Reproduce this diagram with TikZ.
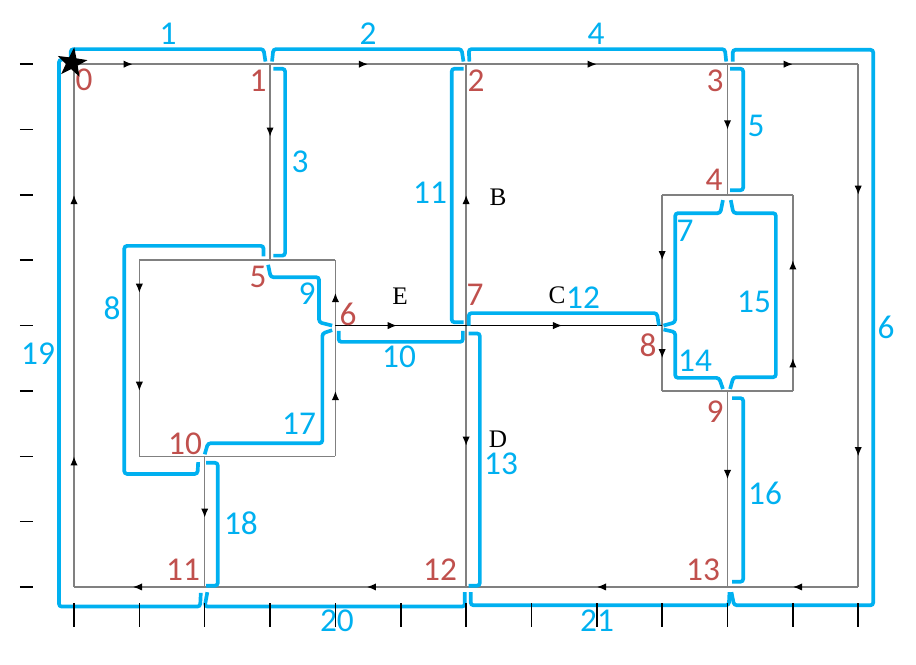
\documentclass[tikz,border=0pt]{standalone}
\usepackage{fontspec}
\setmainfont{Carlito}
\newfontfamily\serifa{Liberation Serif}
\usepackage{tikz}
\usetikzlibrary{arrows.meta,decorations.markings,shapes.geometric}
\definecolor{azul}{HTML}{00B0F0}
\definecolor{rojo}{HTML}{C0504D}
\definecolor{gris}{HTML}{808080}

\begin{document}
\begin{tikzpicture}[
  arista/.style={gris, line width=0.65pt},
  enlace/.style={black, line width=0.45pt},
  flecha/.style={postaction={decorate, decoration={markings,
      mark=at position #1 with {\arrow[black]{Latex[length=4pt,width=3.2pt]}}}}},
  flecha/.default=0.5,
  tramo/.style={azul, line width=1.6pt, rounded corners=1.2pt},
  nodo/.style={rojo, font=\fontsize{14.5}{16}\selectfont, inner sep=0pt},
  num/.style={azul, font=\fontsize{14.5}{16}\selectfont, inner sep=0pt},
  letra/.style={font=\serifa\fontsize{11}{13}\selectfont, inner sep=0pt},
  raya/.style={black, line width=0.65pt}]
  \useasboundingbox (-1.1324,-1.1936) rectangle (12.884,8.982);
  % vertices
  \coordinate (n0) at (0,8);
  \coordinate (n1) at (3,8);
  \coordinate (n2) at (6,8);
  \coordinate (n3) at (10,8);
  \coordinate (n4) at (10,6);
  \coordinate (n5) at (3,5);
  \coordinate (n6) at (4,4);
  \coordinate (n7) at (6,4);
  \coordinate (n8) at (9,4);
  \coordinate (n9) at (10,3);
  \coordinate (n10) at (2,2);
  \coordinate (n11) at (2,0);
  \coordinate (n12) at (6,0);
  \coordinate (n13) at (10,0);
  % esquinas
  \coordinate (sd) at (12,8);
  \coordinate (md) at (12,4);
  \coordinate (id) at (12,0);
  \coordinate (ii) at (0,0);
  \coordinate (mi) at (0,4);
  \coordinate (a1) at (1,5);
  \coordinate (a2) at (1,4);
  \coordinate (a3) at (1,2);
  \coordinate (a4) at (4,2);
  \coordinate (a5) at (4,5);
  \coordinate (b1) at (9,6);
  \coordinate (b2) at (9,3);
  \coordinate (b3) at (11,3);
  \coordinate (b4) at (11,4);
  \coordinate (b5) at (11,6);
  % aristas exteriores
  \draw[arista, flecha=0.3] (n0) -- (n1);
  \draw[arista, flecha] (n1) -- (n2);
  \draw[arista, flecha] (n2) -- (n3);
  \draw[arista, flecha] (n3) -- (sd);
  \draw[arista, flecha] (sd) -- (md);
  \draw[arista, flecha] (md) -- (id);
  \draw[arista, flecha] (id) -- (n13);
  \draw[arista, flecha] (n13) -- (n12);
  \draw[arista, flecha=0.38] (n12) -- (n11);
  \draw[arista, flecha=0.55] (n11) -- (ii);
  \draw[arista, flecha] (ii) -- (mi);
  \draw[arista, flecha] (mi) -- (n0);
  % aristas interiores
  \draw[arista, flecha=0.37] (n1) -- (n5);
  \draw[arista, flecha] (n3) -- (n4);
  \draw[arista, flecha] (n7) -- (n2);
  \draw[arista, flecha=0.46] (n7) -- (n12);
  \draw[arista, flecha=0.45] (n9) -- (n13);
  \draw[arista, flecha=0.47] (n10) -- (n11);
  \draw[arista] (n5) -- (a1);
  \draw[arista, flecha] (a1) -- (a2);
  \draw[arista, flecha] (a2) -- (a3);
  \draw[arista] (a3) -- (n10) -- (a4);
  \draw[arista, flecha] (a4) -- (n6);
  \draw[arista, flecha] (n6) -- (a5);
  \draw[arista] (a5) -- (n5);
  \draw[arista] (n4) -- (b1);
  \draw[arista, flecha] (b1) -- (n8);
  \draw[arista, flecha] (n8) -- (b2);
  \draw[arista] (b2) -- (n9) -- (b3);
  \draw[arista, flecha] (b3) -- (b4);
  \draw[arista, flecha] (b4) -- (b5);
  \draw[arista] (b5) -- (n4);
  \draw[enlace, flecha=0.47] (n6) -- (n7);
  \draw[enlace, flecha=0.49] (n7) -- (n8);
  % tramos
  \draw[tramo] (-0.05,8.05) -- (-0.05,8.23) -- (2.9,8.23) -- (2.93,8.04);
  \draw[tramo] (3.03,8.04) -- (3.05,8.23) -- (5.93,8.23) -- (5.96,8.04);
  \draw[tramo] (6.05,8.04) -- (6.04,8.23) -- (9.96,8.23) -- (9.98,8.04);
  \draw[tramo] (10.08,8.04) -- (10.08,8.22) -- (12.23,8.22) -- (12.23,-0.28) -- (10.1,-0.28) -- (10.06,-0.08);
  \draw[tramo] (3.05,7.93) -- (3.23,7.93) -- (3.23,5.07) -- (3.05,5.07);
  \draw[tramo] (10.04,7.93) -- (10.24,7.93) -- (10.24,6.07) -- (10.04,6.07);
  \draw[tramo] (5.96,7.93) -- (5.78,7.93) -- (5.78,4.05) -- (5.96,4.05);
  \draw[tramo] (6.04,4.0) -- (6.04,4.19) -- (8.92,4.19) -- (8.95,4.0);
  \draw[tramo] (4.05,3.92) -- (4.05,3.75) -- (5.95,3.75) -- (5.95,3.92);
  \draw[tramo] (6.04,3.88) -- (6.21,3.88) -- (6.21,0.02) -- (6.04,0.02);
  \draw[tramo] (2.97,4.93) -- (3.01,4.74) -- (3.75,4.74) -- (3.75,4.05) -- (3.95,4.0);
  \draw[tramo] (2.0,2.03) -- (2.05,2.2) -- (3.8,2.2) -- (3.8,3.88) -- (3.95,3.93);
  \draw[tramo] (2.9,5.06) -- (2.9,5.22) -- (0.77,5.22) -- (0.77,1.73) -- (1.89,1.73) -- (1.9,1.91);
  \draw[tramo] (2.02,1.9) -- (2.2,1.9) -- (2.2,0.02) -- (2.02,0.02);
  \draw[tramo] (-0.08,8.07) -- (-0.23,8.07) -- (-0.23,-0.3) -- (1.93,-0.3) -- (1.94,-0.09);
  \draw[tramo] (2.04,-0.08) -- (2.0,-0.3) -- (5.98,-0.3) -- (5.98,-0.08);
  \draw[tramo] (6.07,-0.08) -- (6.07,-0.28) -- (10.02,-0.28) -- (10.03,-0.08);
  \draw[tramo] (9.93,5.92) -- (9.89,5.72) -- (9.2,5.72) -- (9.2,4.05) -- (9.02,4.0);
  \draw[tramo] (10.05,5.92) -- (10.09,5.72) -- (10.74,5.72) -- (10.74,3.21) -- (10.09,3.21) -- (10.04,3.03);
  \draw[tramo] (9.02,3.94) -- (9.2,3.9) -- (9.2,3.2) -- (9.87,3.2) -- (9.93,3.03);
  \draw[tramo] (10.07,2.89) -- (10.24,2.89) -- (10.24,0.08) -- (10.07,0.08);
  % numeros de vertice
  \foreach \t/\x/\y in {0/0.153/7.758, 1/2.816/7.743, 2/6.151/7.743, 3/9.809/7.743,
      4/9.793/6.228, 5/2.816/4.744, 6/4.193/4.178, 7/6.136/4.468, 8/8.783/3.703,
      9/9.809/2.678, 10/1.699/2.188, 11/1.668/0.26, 12/5.601/0.26, 13/9.625/0.26}
    \node[nodo] (v\t) at (\x,\y) {\t};
  % numeros de tramo
  \foreach \t/\x/\y in {1/1.438/8.462, 2/4.499/8.462, 3/3.458/6.503, 4/7.988/8.462,
      5/10.436/7.054, 6/12.425/3.979, 7/9.35/5.448, 8/0.581/4.269, 9/3.565/4.484,
      10/4.973/3.52, 11/5.448/6.029, 12/7.789/4.422, 13/6.534/1.882, 14/9.503/3.458,
      15/10.406/4.361, 16/10.574/1.438, 17/3.443/2.494, 18/2.555/0.979,
      19/-0.551/3.565, 20/4.024/-0.52, 21/8.003/-0.52}
    \node[num] (t\t) at (\x,\y) {\t};
  \node[letra] (lB) at (6.488,5.968) {B};
  \node[letra] (lC) at (7.391,4.468) {C};
  \node[letra] (lD) at (6.488,2.265) {D};
  \node[letra] (lE) at (4.989,4.453) {E};
  % reglas
  \foreach \j in {0,...,8}
    \draw[raya] (-0.83,\j) -- (-0.63,\j);
  \foreach \i in {0,...,12}
    \draw[raya] (\i,-0.25) -- (\i,-0.62);
  \node[star, star points=5, star point ratio=2.5, fill=black, minimum size=0.48cm,
    inner sep=0pt, rotate=-8] (inicio) at (-0.03,8.02) {};
\end{tikzpicture}
\end{document}
